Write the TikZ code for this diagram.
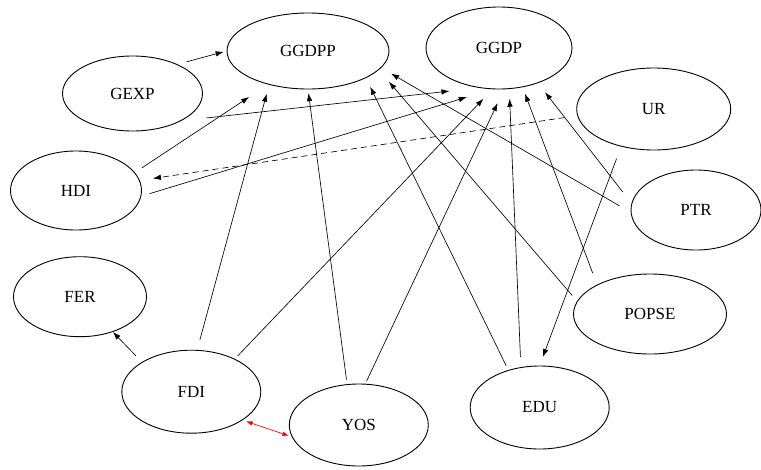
\documentclass[tikz,border=0pt]{standalone}
\usepackage{fontspec}
\setmainfont{Liberation Serif}
\usetikzlibrary{arrows.meta,shapes.geometric}

\begin{document}
\begin{tikzpicture}[
    x=1pt, y=-1pt,
    factor/.style={draw, ellipse, inner sep=0pt, line width=0.9pt, font=\fontsize{17}{20}\selectfont},
    arrow/.style={-{Latex[length=8pt, width=5.5pt]}, line width=0.65pt},
    twoway/.style={{Latex[length=6.5pt, width=4.5pt]}-{Latex[length=6.5pt, width=4.5pt]}, red, line width=0.65pt}
]
\useasboundingbox (0,0) rectangle (761,469);

\node[factor, minimum width=162pt, minimum height=76pt] (ggdpp) at (308,51) {GGDPP};
\node[factor, minimum width=146pt, minimum height=82pt] (ggdp) at (499,48) {GGDP};
\node[factor, minimum width=140pt, minimum height=75pt] (gexp) at (132.5,93.5) {GEXP};
\node[factor, minimum width=154pt, minimum height=82pt] (ur) at (653.7,109) {UR};
\node[factor, minimum width=131pt, minimum height=79pt] (hdi) at (76,190.5) {HDI};
\node[factor, minimum width=130pt, minimum height=80pt] (ptr) at (696,210) {PTR};
\node[factor, minimum width=133pt, minimum height=80pt] (fer) at (80,296.7) {FER};
\node[factor, minimum width=153pt, minimum height=80pt] (popse) at (650,314) {POPSE};
\node[factor, minimum width=139pt, minimum height=83pt] (fdi) at (191.3,391.7) {FDI};
\node[factor, minimum width=139pt, minimum height=83pt] (edu) at (539.7,407.5) {EDU};
\node[factor, minimum width=139pt, minimum height=82pt] (yos) at (358.8,425) {YOS};

% into GGDPP
\draw[arrow, shorten <=9.3pt, shorten >=3pt] (gexp.33) -- (ggdpp.180);
\draw[arrow, shorten <=8.4pt, shorten >=22.7pt] (hdi.17) -- (ggdpp.220);
\draw[arrow, shorten <=10.5pt, shorten >=9.3pt] (fdi.82) -- (ggdpp.221);
\draw[arrow, shorten <=4.6pt, shorten >=3.7pt] (yos.106) -- (ggdpp.270);
\draw[arrow, shorten <=4.8pt, shorten >=9.7pt] (edu.130) -- (ggdpp.-25);
\draw[arrow, shorten <=7.5pt, shorten >=15.5pt] (popse.170) -- (ggdpp.-15);
\draw[arrow, shorten <=12.8pt, shorten >=11.4pt] (ptr.182) -- (ggdpp.-13);

% into GGDP
\draw[arrow, shorten <=25pt, shorten >=29.4pt] (gexp.-29) -- (ggdp.243);
\draw[arrow, shorten <=8.6pt, shorten >=26.9pt] (hdi.-5) -- (ggdp.261);
\draw[arrow, shorten <=4.1pt, shorten >=13.1pt] (fdi.37) -- (ggdp.261);
\draw[arrow, shorten <=2.8pt, shorten >=15.2pt] (yos.81) -- (ggdp.277);
\draw[arrow, shorten <=10.2pt, shorten >=9.7pt] (edu.115) -- (ggdp.284);
\draw[arrow, shorten <=12.3pt, shorten >=6.9pt] (popse.151) -- (ggdp.301);
\draw[arrow, shorten <=14.2pt, shorten >=11.4pt] (ptr.174) -- (ggdp.318);

% others
\draw[arrow, dashed, dash pattern=on 6pt off 4pt, shorten <=12.8pt, shorten >=13.3pt] (ur.185) -- (hdi.9);
\draw[arrow, shorten <=12.8pt, shorten >=9.1pt] (ur.229) -- (edu.90);
\draw[arrow, shorten <=8.6pt] (fdi.149) -- (fer.-47);
\draw[twoway, shorten <=3.5pt, shorten >=3pt] (fdi.-29) -- (yos.190);
\end{tikzpicture}
\end{document}
